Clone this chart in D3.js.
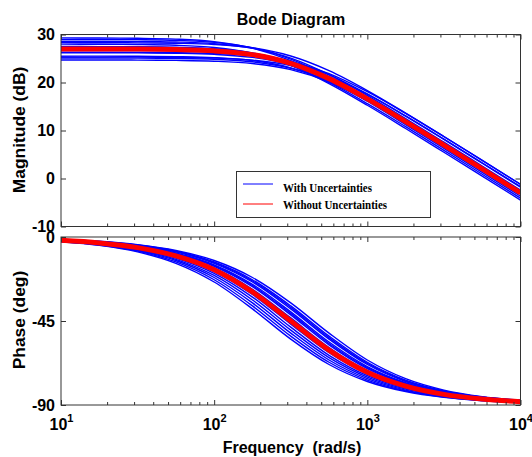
<!DOCTYPE html>
<html><head><meta charset="utf-8">
<script src="https://cdn.jsdelivr.net/npm/d3@7/dist/d3.min.js"></script>
<style>body{margin:0;background:#fff}svg{display:block}</style>
</head><body><svg id="c" width="532" height="457"></svg>
<script>
// Frequencies (rad/s), quarter decades
const freq = [10, 17.78, 31.62, 56.23, 100, 177.8, 316.2, 562.3, 1000, 1778, 3162, 5623, 10000];

// Magnitude (dB) of the curves with uncertainties
const magWith = [
  [29.29,29.27,29.21,29.03,28.51,27.18,24.54,20.66,16.09,11.23,6.28,1.29,-3.7],
  [27.99,27.97,27.92,27.76,27.28,26.06,23.56,19.78,15.26,10.42,5.47,0.49,-4.5],
  [28.99,28.98,28.93,28.79,28.36,27.24,24.88,21.21,16.73,11.91,6.97,1.99,-3.0],
  [27.4,27.38,27.34,27.21,26.82,25.79,23.57,20.02,15.6,10.8,5.87,0.89,-4.1],
  [28.6,28.58,28.55,28.43,28.08,27.14,25.06,21.63,17.27,12.49,7.57,2.59,-2.4],
  [27.5,27.48,27.45,27.34,27.03,26.17,24.22,20.92,16.63,11.87,6.96,1.99,-3.0],
  [28.3,28.29,28.26,28.17,27.93,27.22,25.52,22.47,18.33,13.64,8.75,3.78,-1.2],
  [26.2,26.19,26.17,26.09,25.87,25.23,23.66,20.74,16.68,12.03,7.15,2.18,-2.8],
  [25.5,25.49,25.47,25.39,25.18,24.57,23.06,20.21,16.2,11.57,6.69,1.73,-3.25],
  [26.7,26.69,26.67,26.6,26.4,25.82,24.37,21.59,17.62,13.01,8.14,3.18,-1.8],
  [25.1,25.09,25.07,25.01,24.83,24.31,22.98,20.34,16.46,11.89,7.03,2.08,-2.91],
  [24.7,24.69,24.67,24.61,24.44,23.95,22.67,20.1,16.27,11.72,6.87,1.93,-3.06],
  [26.3,26.29,26.27,26.22,26.06,25.58,24.36,21.86,18.08,13.56,8.72,3.77,-1.21],
  [25.3,25.29,25.28,25.23,25.09,24.66,23.54,21.18,17.51,13.03,8.21,3.27,-1.71]
];

// Phase (deg) of the curves with uncertainties
const phaseWith = [
  [-2.6,-4.5,-8.0,-14.1,-24.1,-38.5,-54.7,-68.3,-77.4,-82.8,-85.9,-87.7,-88.7],
  [-2.45,-4.3,-7.6,-13.35,-22.9,-36.9,-53.1,-67.1,-76.65,-82.4,-85.7,-87.55,-88.65],
  [-2.3,-4.1,-7.2,-12.6,-21.7,-35.3,-51.5,-65.9,-75.9,-82.0,-85.5,-87.4,-88.6],
  [-2.15,-3.85,-6.8,-11.95,-20.6,-33.75,-49.9,-64.65,-75.1,-81.5,-85.2,-87.25,-88.5],
  [-2.0,-3.6,-6.4,-11.3,-19.5,-32.2,-48.3,-63.4,-74.3,-81.0,-84.9,-87.1,-88.4],
  [-1.9,-3.4,-6.05,-10.7,-18.5,-30.8,-46.65,-62.0,-73.4,-80.45,-84.6,-86.95,-88.3],
  [-1.7,-3.05,-5.4,-9.55,-16.6,-28.0,-43.35,-59.2,-71.5,-79.3,-83.95,-86.6,-88.1],
  [-1.6,-2.9,-5.1,-9.0,-15.7,-26.6,-41.7,-57.8,-70.5,-78.7,-83.6,-86.4,-88.0],
  [-1.55,-2.83,-4.95,-8.75,-15.3,-25.98,-40.9,-57.03,-69.95,-78.38,-83.4,-86.28,-87.93],
  [-1.5,-2.75,-4.8,-8.5,-14.9,-25.35,-40.1,-56.25,-69.4,-78.05,-83.2,-86.15,-87.85],
  [-1.4,-2.6,-4.5,-8.0,-14.1,-24.1,-38.5,-54.7,-68.3,-77.4,-82.8,-85.9,-87.7],
  [-1.38,-2.53,-4.4,-7.8,-13.73,-23.5,-37.7,-53.9,-67.7,-77.03,-82.6,-85.8,-87.63],
  [-1.35,-2.45,-4.3,-7.6,-13.35,-22.9,-36.9,-53.1,-67.1,-76.65,-82.4,-85.7,-87.55],
  [-1.3,-2.3,-4.1,-7.2,-12.6,-21.7,-35.3,-51.5,-65.9,-75.9,-82.0,-85.5,-87.4]
];

// Nominal curve (without uncertainties)
const magWithout   = [27.0,26.99,26.96,26.86,26.59,25.81,23.99,20.81,16.59,11.86,6.96,1.99,-3.0];
const phaseWithout = [-1.8,-3.2,-5.7,-10.1,-17.5,-29.4,-45.0,-60.6,-72.5,-79.9,-84.3,-86.8,-88.2];

const magTicks = [-10, 0, 10, 20, 30];
const phaseTicks = [-90, -45, 0];
const freqMajor = [10, 100, 1000, 10000];
const legendLabels = ["With Uncertainties", "Without Uncertainties"];
const legendColors = ["#0000ff", "#ff0000"];
const legendLengths = [89, 104];

const svg = d3.select("#c");
const SANS = "'Liberation Sans', Arial, sans-serif";
const SERIF = "'Liberation Serif', 'Times New Roman', serif";
const AX = "#333";

const x = d3.scaleLog().domain([10, 10000]).range([61, 520.5]);
const yMag = d3.scaleLinear().domain([-10, 30]).range([226.5, 34.5]);
const yPh = d3.scaleLinear().domain([-90, 0]).range([405, 237]);
const freqMinor = x.ticks().filter(f => !freqMajor.some(m => Math.abs(m - f) < 1e-6));

function drawPanel(y, yTicks, magData, nomData, id, showXLabels) {
  const [yb, yt] = y.range();
  const [xl, xr] = x.range();
  const g = svg.append("g");

  svg.append("clipPath").attr("id", id).append("rect")
    .attr("x", xl).attr("y", yt).attr("width", xr - xl).attr("height", yb - yt);

  const line = d3.line().x((d, i) => x(freq[i])).y(d => y(d)).curve(d3.curveMonotoneX);
  const lg = g.append("g").attr("clip-path", `url(#${id})`);
  lg.selectAll("path.blue").data(magData).join("path").attr("class", "blue")
    .attr("d", line).attr("fill", "none").attr("stroke", "#0000ff").attr("stroke-width", 1.4);
  lg.append("path").datum(nomData).attr("d", line).attr("fill", "none")
    .attr("stroke", "#ff0000").attr("stroke-width", 5);

  const left = g.append("g").attr("transform", `translate(${xl},0)`)
    .call(d3.axisLeft(y).tickValues(yTicks).tickSizeInner(-5).tickSizeOuter(0).tickPadding(6).tickFormat(d => String(d)));
  const right = g.append("g").attr("transform", `translate(${xr},0)`)
    .call(d3.axisRight(y).tickValues(yTicks).tickSizeInner(-5).tickSizeOuter(0).tickFormat(""));
  const bot = g.append("g").attr("transform", `translate(0,${yb})`)
    .call(d3.axisBottom(x).tickValues(freqMajor).tickSizeInner(-5).tickSizeOuter(0).tickFormat(""));
  const botm = g.append("g").attr("transform", `translate(0,${yb})`)
    .call(d3.axisBottom(x).tickValues(freqMinor).tickSizeInner(-3).tickSizeOuter(0).tickFormat(""));
  const top = g.append("g").attr("transform", `translate(0,${yt})`)
    .call(d3.axisTop(x).tickValues(freqMajor).tickSizeInner(-5).tickSizeOuter(0).tickFormat(""));
  const topm = g.append("g").attr("transform", `translate(0,${yt})`)
    .call(d3.axisTop(x).tickValues(freqMinor).tickSizeInner(-3).tickSizeOuter(0).tickFormat(""));

  [left, right, bot, botm, top, topm].forEach(a => {
    a.select(".domain").remove();
    a.selectAll(".tick line").attr("stroke", AX);
  });
  left.selectAll(".tick text").attr("font-family", SANS).attr("font-weight", "bold")
    .attr("font-size", 16).attr("fill", "#000");

  g.append("rect").attr("x", xl).attr("y", yt).attr("width", xr - xl).attr("height", yb - yt)
    .attr("fill", "none").attr("stroke", AX).attr("stroke-width", 1);

  if (showXLabels) {
    const lab = g.append("g").attr("transform", `translate(0,${yb})`)
      .call(d3.axisBottom(x).tickValues(freqMajor).tickSize(0).tickFormat(""));
    lab.select(".domain").remove();
    lab.selectAll(".tick").append("text")
      .attr("y", 25).attr("text-anchor", "middle")
      .attr("font-family", SANS).attr("font-weight", "bold").attr("fill", "#000")
      .each(function (d) {
        const t = d3.select(this);
        t.append("tspan").attr("font-size", 16).text("10");
        t.append("tspan").attr("font-size", 11).attr("dy", -8.5).text(Math.round(Math.log10(d)));
      });
  }
  return g;
}

drawPanel(yMag, magTicks, magWith, magWithout, "clipMag", false);
drawPanel(yPh, phaseTicks, phaseWith, phaseWithout, "clipPh", true);

svg.append("text").attr("x", 291).attr("y", 25).attr("text-anchor", "middle")
  .attr("font-family", SANS).attr("font-weight", "bold").attr("font-size", 16).text("Bode Diagram");
svg.append("text").attr("x", 292).attr("y", 453).attr("text-anchor", "middle")
  .attr("font-family", SANS).attr("font-weight", "bold").attr("font-size", 16)
  .style("white-space", "pre").text("Frequency  (rad/s)");
svg.append("text").attr("transform", "translate(25,130) rotate(-90)").attr("text-anchor", "middle")
  .attr("font-family", SANS).attr("font-weight", "bold").attr("font-size", 17.4).text("Magnitude (dB)");
svg.append("text").attr("transform", "translate(25,320) rotate(-90)").attr("text-anchor", "middle")
  .attr("font-family", SANS).attr("font-weight", "bold").attr("font-size", 17.4).text("Phase (deg)");

const lgd = svg.append("g");
lgd.append("rect").attr("x", 236.5).attr("y", 171.5).attr("width", 194).attr("height", 46)
  .attr("fill", "#fff").attr("stroke", AX).attr("stroke-width", 1);
const items = lgd.selectAll("g.item").data(legendLabels).join("g").attr("class", "item");
items.append("line").attr("x1", 243).attr("x2", 273)
  .attr("y1", (d, i) => 184 + i * 20).attr("y2", (d, i) => 184 + i * 20)
  .attr("stroke", (d, i) => legendColors[i]).attr("stroke-width", 1);
items.append("text").attr("x", 283).attr("y", (d, i) => 192 + i * 17)
  .attr("font-family", SERIF).attr("font-weight", "bold").attr("font-size", 13)
  .attr("textLength", (d, i) => legendLengths[i]).attr("lengthAdjust", "spacingAndGlyphs")
  .text(d => d);
</script></body></html>
